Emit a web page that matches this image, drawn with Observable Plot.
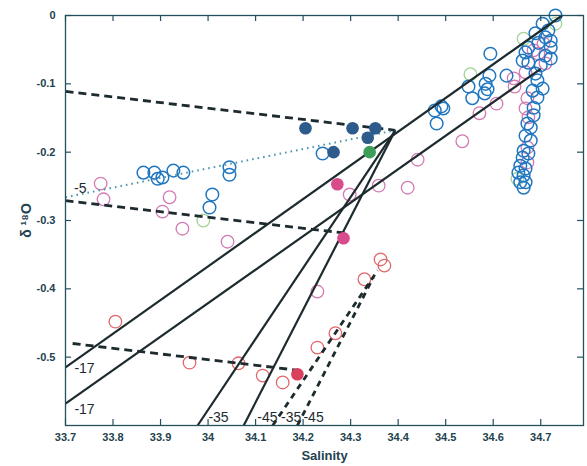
<!DOCTYPE html>
<html><head><meta charset="utf-8">
<script src="https://cdn.jsdelivr.net/npm/d3@7"></script>
<script src="https://cdn.jsdelivr.net/npm/@observablehq/plot@0.6"></script>
<style>
body{margin:0;background:#fff}
svg{font-family:"Liberation Sans",Arial,sans-serif}
g[aria-label="x-axis tick label"] text, g[aria-label="y-axis tick label"] text{font-weight:bold;font-size:11px}
g[aria-label="x-axis label"] text{font-weight:bold;font-size:13px}
g[aria-label="y-axis label"] text{font-weight:bold;font-size:14px}
</style>
</head><body><div id="chart"></div>
<script>
// ---- tick values ----
const xTicks = [33.7, 33.8, 33.9, 34.0, 34.1, 34.2, 34.3, 34.4, 34.5, 34.6, 34.7];
const yTicks = [0, -0.1, -0.2, -0.3, -0.4, -0.5];

// ---- data points [salinity, d18O] ----
const blueOpen = [
  [33.864,-0.230],[33.887,-0.230],[33.894,-0.239],[33.904,-0.237],[33.927,-0.227],[33.948,-0.230],
  [34.045,-0.222],[34.045,-0.233],[34.009,-0.262],[34.003,-0.281],[34.241,-0.202],
  [34.594,-0.056],[34.592,-0.088],[34.628,-0.088],[34.548,-0.104],[34.584,-0.100],[34.588,-0.108],
  [34.556,-0.121],[34.582,-0.114],[34.491,-0.133],[34.495,-0.136],[34.477,-0.139],[34.481,-0.158],
  [34.731,0.000],[34.716,-0.022],[34.710,-0.032],[34.721,-0.037],[34.695,-0.040],[34.674,-0.047],
  [34.668,-0.054],[34.721,-0.047],[34.710,-0.059],[34.721,-0.063],[34.662,-0.066],[34.674,-0.069],
  [34.689,-0.085],[34.693,-0.095],[34.704,-0.107],[34.683,-0.110],[34.693,-0.120],[34.685,-0.135],
  [34.685,-0.146],[34.672,-0.158],[34.679,-0.164],[34.668,-0.176],[34.679,-0.183],[34.664,-0.198],
  [34.674,-0.202],[34.662,-0.208],[34.657,-0.220],[34.668,-0.224],[34.653,-0.230],[34.664,-0.234],
  [34.657,-0.244],[34.668,-0.244],[34.664,-0.252],[34.700,-0.073],[34.689,-0.026],[34.704,-0.012]
];
const magentaOpen = [
  [33.774,-0.246],[33.780,-0.269],[33.919,-0.266],[33.904,-0.287],[33.946,-0.312],[34.041,-0.331],
  [34.441,-0.211],[34.535,-0.184],[34.571,-0.143],[34.607,-0.129],[34.359,-0.249],[34.420,-0.252],
  [34.298,-0.262],[34.230,-0.404],
  [34.706,-0.041],[34.685,-0.051],[34.695,-0.056],[34.710,-0.070],[34.668,-0.083],[34.643,-0.092],
  [34.672,-0.121],[34.668,-0.136],[34.674,-0.149],[34.672,-0.193],[34.672,-0.215],[34.645,-0.104]
];
const redOpen = [
  [33.805,-0.448],[33.961,-0.508],[34.064,-0.509],[34.115,-0.527],[34.157,-0.537],
  [34.363,-0.357],[34.371,-0.366],[34.329,-0.386],[34.268,-0.465],[34.230,-0.486]
];
const greenOpen = [[33.990,-0.300],[34.552,-0.086],[34.731,-0.012],[34.664,-0.034],[34.651,-0.239]];
const navyFilled = [[34.205,-0.165],[34.304,-0.165],[34.352,-0.165],[34.336,-0.179],[34.264,-0.200]];
const greenFilled = [[34.340,-0.200]];
const magentaFilled = [[34.272,-0.247],[34.285,-0.326]];
const crimsonFilled = [[34.188,-0.525]];

// ---- mixing lines [s1, d1, s2, d2] ----
const solidLines = [
  [33.700,-0.515,34.745,0.000],
  [33.700,-0.568,34.700,-0.078],
  [33.978,-0.600,34.394,-0.168],
  [34.075,-0.600,34.394,-0.168]
];
const dashedLines = [
  [33.700,-0.111,34.394,-0.168],
  [33.700,-0.271,34.296,-0.319],
  [33.715,-0.480,34.199,-0.520]
];
const steepDashedLines = [
  [34.136,-0.600,34.357,-0.373],
  [34.188,-0.600,34.348,-0.383]
];
const dottedLines = [[33.700,-0.266,34.394,-0.168]];

// ---- line labels ----
const lineLabels = ["-5", "-17", "-17", "-35", "-45", "-35", "-45"];
const labelS = [33.731, 33.740, 33.740, 34.022, 34.125, 34.175, 34.222];
const labelD = [-0.253, -0.517, -0.577, -0.588, -0.588, -0.588, -0.588];

const W = 587, H = 466, mL = 65, mR = 4, mT = 15, mB = 41;
const pw = W - mL - mR, ph = H - mT - mB;
const axisColor = "#24505e";
const ink = "#1d2b2f";

const pts = a => a.map(([s, d]) => ({s, d}));
const lk = a => a.map(([s1, d1, s2, d2]) => ({s1, d1, s2, d2}));
const labels = lineLabels.map((t, i) => ({t, s: labelS[i], d: labelD[i]}));
const fmtX = v => String(+v.toFixed(1));
const fmtY = v => v === 0 ? "0" : v.toFixed(1);

const R = 6.3;
const chart = Plot.plot({
  width: W, height: H,
  marginLeft: mL, marginRight: mR, marginTop: mT, marginBottom: mB,
  x: {domain: [33.7, 34.79]},
  y: {domain: [-0.6, 0]},
  marks: [
    Plot.dot(pts(magentaOpen), {x: "s", y: "d", r: R, stroke: "#d37ab3", strokeWidth: 1.3}),
    Plot.dot(pts(redOpen), {x: "s", y: "d", r: R, stroke: "#e2676a", strokeWidth: 1.3}),
    Plot.dot(pts(greenOpen), {x: "s", y: "d", r: R, stroke: "#a3d493", strokeWidth: 1.3}),
    Plot.dot(pts(blueOpen), {x: "s", y: "d", r: R, stroke: "#2176c0", strokeWidth: 1.5}),
    Plot.link(lk(solidLines), {x1: "s1", y1: "d1", x2: "s2", y2: "d2", stroke: ink, strokeWidth: 2.2}),
    Plot.link(lk(dashedLines), {x1: "s1", y1: "d1", x2: "s2", y2: "d2", stroke: ink, strokeWidth: 2.8, strokeDasharray: "8,5"}),
    Plot.link(lk(steepDashedLines), {x1: "s1", y1: "d1", x2: "s2", y2: "d2", stroke: ink, strokeWidth: 2.8, strokeDasharray: "6,5"}),
    Plot.link(lk(dottedLines), {x1: "s1", y1: "d1", x2: "s2", y2: "d2", stroke: "#4b97ad", strokeWidth: 2, strokeDasharray: "1.6,4"}),
    Plot.dot(pts(navyFilled), {x: "s", y: "d", r: R, fill: "#2d5b8c"}),
    Plot.dot(pts(greenFilled), {x: "s", y: "d", r: R, fill: "#3d9e5a"}),
    Plot.dot(pts(magentaFilled), {x: "s", y: "d", r: R, fill: "#d84c8c"}),
    Plot.dot(pts(crimsonFilled), {x: "s", y: "d", r: R, fill: "#d8405e"}),
    Plot.text(labels, {x: "s", y: "d", text: "t", fill: ink, fontSize: 14, textAnchor: "middle"}),
    Plot.frame({stroke: axisColor, strokeWidth: 1.3}),
    Plot.tickX(xTicks, {x: d => d, insetTop: ph - 6, stroke: axisColor, strokeWidth: 1.2}),
    Plot.tickX(xTicks, {x: d => d, insetBottom: ph - 6, stroke: axisColor, strokeWidth: 1.2}),
    Plot.tickY(yTicks, {y: d => d, insetRight: pw - 6, stroke: axisColor, strokeWidth: 1.2}),
    Plot.tickY(yTicks, {y: d => d, insetLeft: pw - 6, stroke: axisColor, strokeWidth: 1.2}),
    Plot.axisX({ticks: xTicks, tickSize: 0, tickPadding: 8, tickFormat: fmtX, fill: "#23424f",
      label: "Salinity", labelAnchor: "center", labelArrow: "none", labelOffset: 34}),
    Plot.axisY({ticks: yTicks, tickSize: 0, tickPadding: 10, tickFormat: fmtY, fill: "#23424f",
      label: "δ ¹⁸O", labelAnchor: "center", labelArrow: "none", labelOffset: 44})
  ]
});
document.getElementById("chart").appendChild(chart);
</script>
</body></html>
